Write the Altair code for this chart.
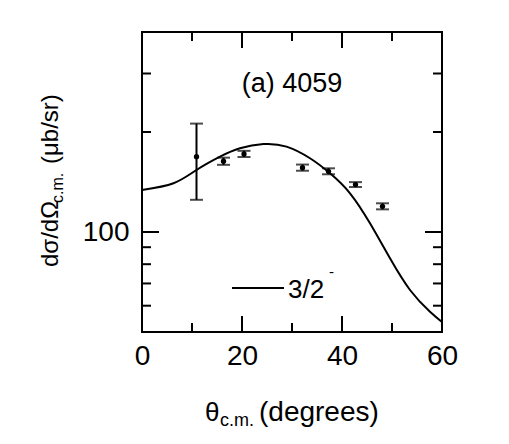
import altair as alt
import pandas as pd

FONT = "Liberation Sans"

# Measured angular distribution: centre-of-mass angle (deg) and cross section (μb/sr)
theta_data = [10.9, 16.3, 20.4, 32.1, 37.3, 42.7, 48.1]
xsec_data = [168.6, 163.3, 171.8, 156.2, 152.3, 138.9, 119.5]
xsec_lo = [125.0, 159.3, 168.2, 152.9, 149.2, 136.6, 117.0]
xsec_hi = [212.0, 167.4, 175.5, 159.6, 155.5, 141.3, 122.0]

# Calculated 3/2- angular distribution
theta_curve = [0.0, 6.3, 10.9, 15.6, 19.6, 24.3, 28.9, 33.6, 37.6, 41.6,
               45.6, 49.6, 53.6, 57.6, 60.0]
xsec_curve = [133.8, 140.2, 153.7, 168.6, 178.7, 184.0, 180.7, 166.7, 150.2,
              130.8, 106.2, 83.3, 66.9, 57.5, 53.6]

# Axis tick values
x_labels = [0, 20, 40, 60]
x_ticks_major = [20, 40]
x_ticks_minor = [10, 30, 50]
y_labels = [100]
y_ticks_major = [100]
y_ticks_minor = [60, 70, 80, 90, 200, 300]

panel_label = ["(a) 4059"]
legend_label = ["3/2"]

W, H = 300, 300
MAJOR, MINOR = 16, 9
Y_MIN, Y_MAX = 50, 400

x_scale = alt.Scale(domain=[0, 60], nice=False, zero=False)
y_scale = alt.Scale(type="log", domain=[Y_MIN, Y_MAX], nice=False)

x_enc = alt.X("theta:Q", scale=x_scale,
              axis=alt.Axis(values=x_labels, title=None, ticks=False, domain=False,
                            grid=False, labelFont=FONT, labelFontSize=28,
                            labelColor="black", labelPadding=10, labelFlush=False))
y_enc = alt.Y("value:Q", scale=y_scale,
              axis=alt.Axis(values=y_labels, title=None, ticks=False, domain=False,
                            grid=False, labelFont=FONT, labelFontSize=28,
                            labelColor="black", labelPadding=13, format="d"))

curve_df = pd.DataFrame({"theta": theta_curve, "value": xsec_curve})
data_df = pd.DataFrame({"theta": theta_data, "value": xsec_data,
                        "lo": xsec_lo, "hi": xsec_hi})

curve = alt.Chart(curve_df).mark_line(
    color="black", strokeWidth=2, interpolate="natural"
).encode(x=x_enc, y=y_enc)

err = alt.Chart(data_df).mark_rule(color="black", strokeWidth=2).encode(
    x=x_enc, y=alt.Y("lo:Q", scale=y_scale), y2="hi:Q")
cap_lo = alt.Chart(data_df).mark_tick(
    color="black", orient="horizontal", size=13, thickness=2
).encode(x=x_enc, y=alt.Y("lo:Q"))
cap_hi = alt.Chart(data_df).mark_tick(
    color="black", orient="horizontal", size=13, thickness=2
).encode(x=x_enc, y=alt.Y("hi:Q"))
pts = alt.Chart(data_df).mark_point(
    filled=True, color="black", size=28, opacity=1
).encode(x=x_enc, y=y_enc)


def xticks_bottom(vals, length):
    # thin filled bars standing on the bottom frame edge
    df = pd.DataFrame({"tx": vals})
    return alt.Chart(df).mark_rect(
        color="black", xOffset=-1, x2Offset=1
    ).encode(
        x=alt.X("tx:Q", scale=x_scale),
        x2="tx:Q",
        y=alt.value(H - length),
        y2=alt.value(H),
    )


def xticks_top(vals, length):
    # two-point segments hanging from the top frame edge, in data space
    step = (Y_MAX / Y_MIN) ** (length / H)
    rows = []
    for i, v in enumerate(vals):
        rows.append({"tx": v, "ty": Y_MAX, "tick": i})
        rows.append({"tx": v, "ty": Y_MAX / step, "tick": i})
    df = pd.DataFrame(rows)
    return alt.Chart(df).mark_line(color="black", strokeWidth=2).encode(
        x=alt.X("tx:Q", scale=x_scale),
        y=alt.Y("ty:Q", scale=y_scale),
        detail="tick:N",
    )


def yticks(vals, length):
    # inward tick segments on the left and right frame edges
    df = pd.DataFrame({"value": vals})
    left = alt.Chart(df).mark_rule(color="black", strokeWidth=2).encode(
        y=y_enc, y2="value:Q", x=alt.value(0), x2=alt.value(length))
    right = alt.Chart(df).mark_rule(color="black", strokeWidth=2).encode(
        y=y_enc, y2="value:Q", x=alt.value(W), x2=alt.value(W - length))
    return [left, right]


def label(text, x, y, size, align="left", angle=0, baseline="alphabetic"):
    kw = dict(font=FONT, fontSize=size, color="black", align=align, baseline=baseline)
    if angle:
        kw["angle"] = angle
    return alt.Chart(pd.DataFrame({"t": [text]})).mark_text(**kw).encode(
        text="t:N", x=alt.value(x), y=alt.value(y))


# Panel label and legend
texts = [
    label(panel_label[0], 150, 60, 27, align="center"),
    alt.Chart(pd.DataFrame({"t": legend_label})).mark_rule(
        color="black", strokeWidth=2
    ).encode(x=alt.value(90), x2=alt.value(142), y=alt.value(256)),
    label(legend_label[0], 146, 266, 26),
    label("-", 187, 245, 15),
    # x-axis title with subscript
    label("θ", 63, 389, 26),
    label("c.m.", 78, 394, 18),
    label("(degrees)", 117, 389, 28),
    # y-axis title with subscript, rotated
    label("dσ/dΩ", -84, 235, 24, angle=270),
    label("c.m.", -79, 171, 16, angle=270),
    label("(μb/sr)", -84, 132, 24, angle=270),
]

layers = [curve, err, cap_lo, cap_hi, pts]
layers += yticks(y_ticks_major, MAJOR + 1) + yticks(y_ticks_minor, MINOR)
layers += [xticks_bottom(x_ticks_major, MAJOR), xticks_bottom(x_ticks_minor, MINOR)]
layers += [xticks_top(x_ticks_major, MAJOR), xticks_top(x_ticks_minor, MINOR)]
layers += texts

chart = alt.layer(*layers).properties(
    width=W, height=H,
    background="white",
    autosize=alt.AutoSizeParams(type="none"),
    padding={"left": 142, "top": 32, "right": 67, "bottom": 112},
).configure_view(
    stroke="black", strokeWidth=2
)

chart.save("out.html", embed_options={"renderer": "svg", "actions": False})
